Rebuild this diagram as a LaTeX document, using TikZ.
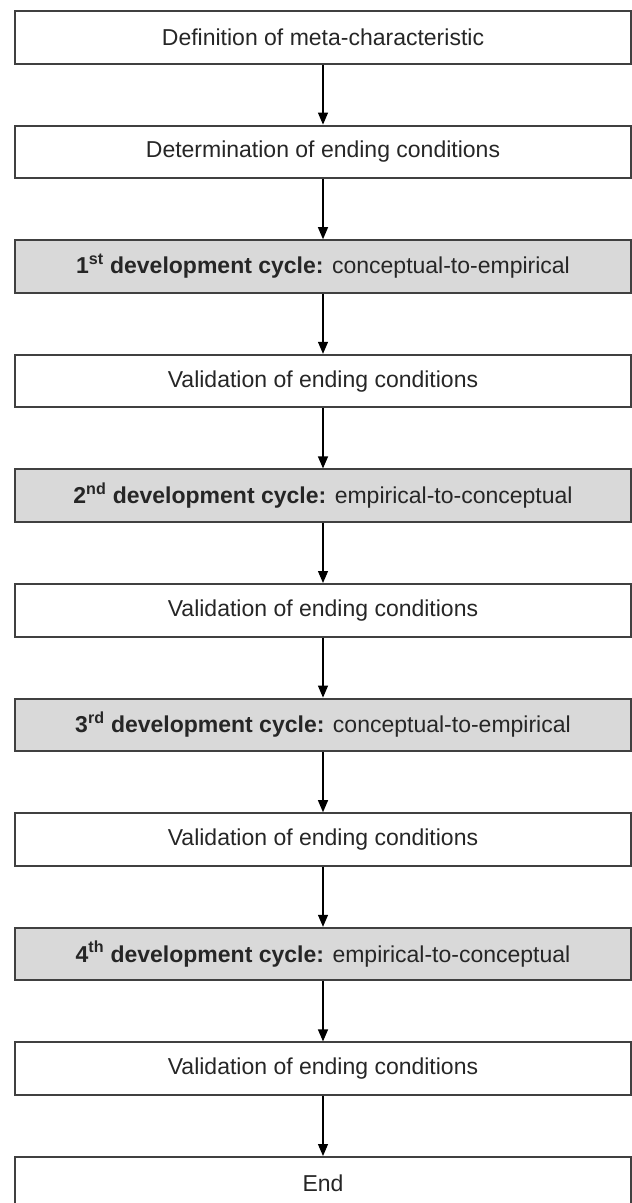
\documentclass[tikz,border=0pt]{standalone}
\usepackage{fontspec}
\setmainfont{Liberation Sans}
\usetikzlibrary{arrows.meta}
\definecolor{boxline}{RGB}{64,64,64}
\definecolor{cyclefill}{RGB}{217,217,217}
\definecolor{txt}{RGB}{38,38,38}
\begin{document}
\begin{tikzpicture}[x=1pt,y=-1pt,
  stepbox/.style={draw=boxline, line width=2pt, fill=white, minimum width=616pt,
    minimum height=52.5pt, inner sep=0pt, font=\fontsize{23}{27}\selectfont, text=txt},
  cyclebox/.style={stepbox, fill=cyclefill},
  flow/.style={line width=1.2pt, draw=black, -{Triangle[length=12pt,width=10pt]}}]
\useasboundingbox (0,0) rectangle (632,1203);
\clip (0,0) rectangle (632,1203);
\node[stepbox]  (n0)  at (323,37.25)   {Definition of meta-characteristic};
\node[stepbox]  (n1)  at (323,151.85)  {Determination of ending conditions};
\node[cyclebox] (n2)  at (323,266.45)  {{\bfseries 1\textsuperscript{st} development cycle:} conceptual-to-empirical};
\node[stepbox]  (n3)  at (323,381.05)  {Validation of ending conditions};
\node[cyclebox] (n4)  at (323,495.65)  {{\bfseries 2\textsuperscript{nd} development cycle:} empirical-to-conceptual};
\node[stepbox]  (n5)  at (323,610.25)  {Validation of ending conditions};
\node[cyclebox] (n6)  at (323,724.85)  {{\bfseries 3\textsuperscript{rd} development cycle:} conceptual-to-empirical};
\node[stepbox]  (n7)  at (323,839.45)  {Validation of ending conditions};
\node[cyclebox] (n8)  at (323,954.05)  {{\bfseries 4\textsuperscript{th} development cycle:} empirical-to-conceptual};
\node[stepbox]  (n9)  at (323,1068.65) {Validation of ending conditions};
\node[stepbox]  (n10) at (323,1183.25) {End};
\foreach \a/\b in {n0/n1,n1/n2,n2/n3,n3/n4,n4/n5,n5/n6,n6/n7,n7/n8,n8/n9,n9/n10}
  \draw[flow] (\a.south) -- (\b.north);
\end{tikzpicture}
\end{document}
